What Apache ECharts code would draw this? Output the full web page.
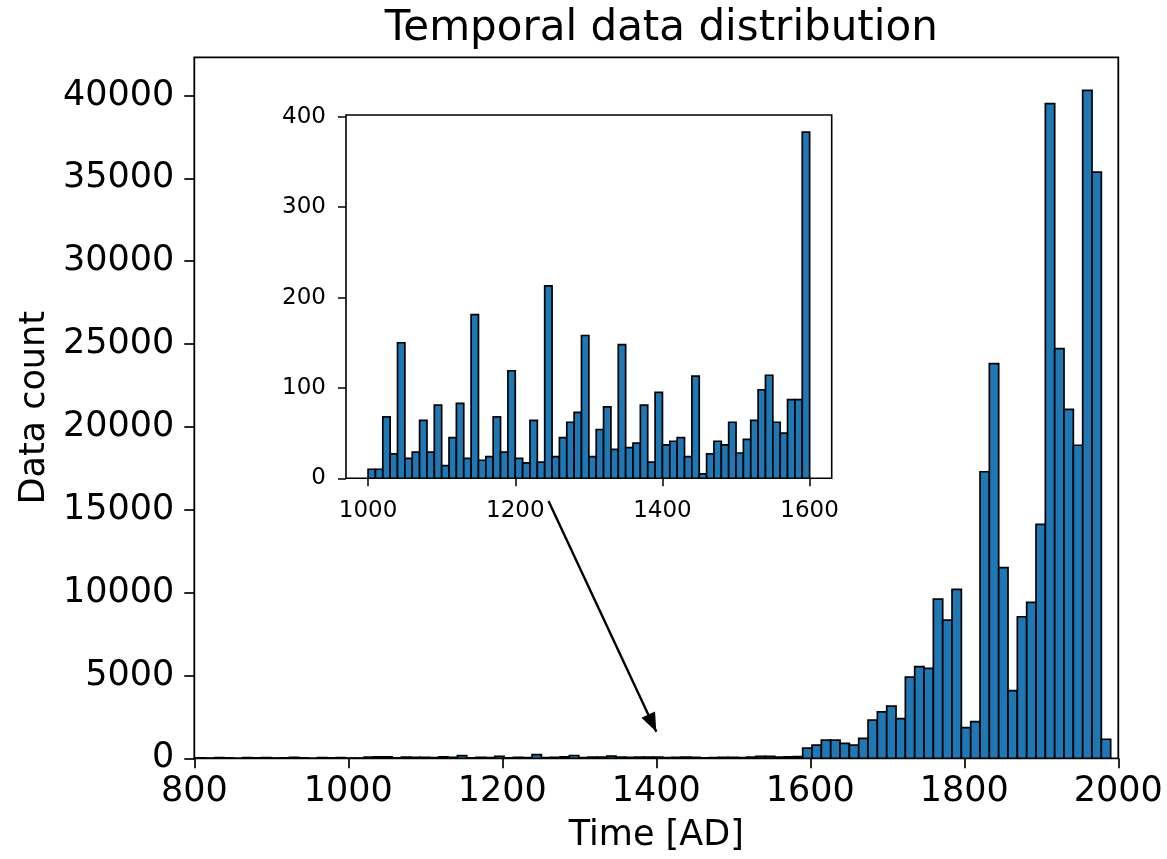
<!DOCTYPE html>
<html>
<head>
<meta charset="utf-8">
<script src="https://cdn.jsdelivr.net/npm/echarts@6/dist/echarts.min.js"></script>
<style>
html,body{margin:0;padding:0;background:#fff;}
#chart{width:1167px;height:859px;}
</style>
</head>
<body>
<div id="chart"></div>
<script>
// ---------- DATA ----------
// Main histogram: 100 equal-width bins (years), clipped to 800-2000 view
const mainBinStart = 778.1;
const mainBinWidth = 12.12;
const mainCounts = [
  20, 25, 30, 15, 40, 25, 0, 35, 20, 45, 10, 30, 50, 20, 0, 35, 25, 40,
  15, 12, 76, 94, 90, 33, 70, 50, 64, 39, 91, 53, 158, 26, 64, 43, 123, 25, 52, 38,
  220, 35, 63, 82, 169, 40, 72, 73, 128, 68, 55, 72, 68, 68, 48, 52, 73, 60, 26, 44,
  56, 57, 44, 77, 121, 116, 67, 90, 104,
  620, 800, 1100, 1100, 900, 800, 1200, 2300, 2800, 3150, 2400, 4900, 5530, 5430,
  9600, 8340, 10190, 1850, 2210, 17290, 23820, 11500, 4080, 8540, 9410, 14110,
  39500, 24720, 21060, 18890, 40300, 35370, 1150
];
// Inset histogram: decades 1000-1600
const insetBinStart = 1000;
const insetBinWidth = 10;
const insetCounts = [
  10, 10, 68, 27, 150, 22, 29, 64, 29, 81,
  14, 45, 83, 22, 181, 20, 24, 68, 29, 119,
  22, 17, 64, 18, 213, 24, 45, 62, 73, 158,
  24, 54, 79, 32, 148, 34, 39, 81, 18, 95,
  37, 41, 45, 24, 113, 5, 27, 41, 37, 62,
  28, 43, 64, 98, 114, 62, 50, 87, 87, 383
];
const mainXTicks = [800, 1000, 1200, 1400, 1600, 1800, 2000];
const mainYTicks = [0, 5000, 10000, 15000, 20000, 25000, 30000, 35000, 40000];
const insetXTicks = [1000, 1200, 1400, 1600];
const insetYTicks = [0, 100, 200, 300, 400];
// annotation arrow (main-axis data coords): from -> to
const arrowFrom = [1260, 15530];
const arrowTo = [1400, 1600];

const titleText = 'Temporal data distribution';
const xName = 'Time [AD]';
const yName = 'Data count';

// ---------- BUILD ----------
const mainData = mainCounts.map((c, i) => [mainBinStart + i * mainBinWidth, mainBinStart + (i + 1) * mainBinWidth, c]);
const insetData = insetCounts.map((c, i) => [insetBinStart + i * insetBinWidth, insetBinStart + (i + 1) * insetBinWidth, c]);

const FONT = 'DejaVu Sans';
const BAR = '#1f77b4';
const plain = v => String(v);

function renderBar(params, api) {
  const x0 = api.value(0), x1 = api.value(1), v = api.value(2);
  const p0 = api.coord([x0, v]);
  const p1 = api.coord([x1, 0]);
  const cs = params.coordSys;
  const r2 = echarts.graphic.clipRectByRect(
    {x: p0[0], y: p0[1], width: p1[0] - p0[0], height: p1[1] - p0[1]},
    {x: cs.x, y: cs.y - 5, width: cs.width, height: cs.height + 10}
  );
  if (!r2) return null;
  return {
    type: 'rect',
    shape: r2,
    style: {fill: BAR, stroke: '#000', lineWidth: 1.7}
  };
}

const chart = echarts.init(document.getElementById('chart'), null, {renderer: 'canvas'});

const mainGrid = {left: 194.3, top: 57.3, width: 924, height: 701};
const insetGrid = {left: 346, top: 115, width: 485.7, height: 363.3};

chart.setOption({
  animation: false,
  backgroundColor: '#fff',
  title: {
    text: titleText,
    left: mainGrid.left + mainGrid.width / 2,
    textAlign: 'center',
    top: 3,
    textStyle: {fontFamily: FONT, fontSize: 42, fontWeight: 'normal', color: '#000'}
  },
  grid: [
    Object.assign({show: true, borderColor: '#000', borderWidth: 1.8, backgroundColor: 'transparent', z: 0}, mainGrid),
    Object.assign({show: true, borderColor: '#000', borderWidth: 1.6, backgroundColor: '#fff', z: 5}, insetGrid)
  ],
  xAxis: [
    {
      type: 'value', gridIndex: 0, min: 800, max: 2000,
      name: xName, nameLocation: 'middle', nameGap: 60,
      nameTextStyle: {fontFamily: FONT, fontSize: 35, color: '#000'},
      axisLine: {show: false},
      splitLine: {show: false},
      axisTick: {show: true, length: 10, lineStyle: {color: '#000', width: 1.7}, customValues: mainXTicks},
      axisLabel: {fontFamily: FONT, fontSize: 35, color: '#000', margin: 16, customValues: mainXTicks, formatter: plain}
    },
    {
      type: 'value', gridIndex: 1, min: 970, max: 1630,
      axisLine: {show: false},
      splitLine: {show: false},
      axisTick: {show: true, length: 8, lineStyle: {color: '#000', width: 1.5}, customValues: insetXTicks},
      axisLabel: {fontFamily: FONT, fontSize: 23, color: '#000', margin: 21, customValues: insetXTicks, formatter: plain},
      z: 6
    }
  ],
  yAxis: [
    {
      type: 'value', gridIndex: 0, min: 0, max: 42300,
      name: yName, nameLocation: 'middle', nameGap: 142,
      nameTextStyle: {fontFamily: FONT, fontSize: 35, color: '#000'},
      axisLine: {show: false},
      splitLine: {show: false},
      axisTick: {show: true, length: 10, lineStyle: {color: '#000', width: 1.7}, customValues: mainYTicks},
      axisLabel: {fontFamily: FONT, fontSize: 35, color: '#000', margin: 20, customValues: mainYTicks, formatter: plain}
    },
    {
      type: 'value', gridIndex: 1, min: 0, max: 402,
      axisLine: {show: false},
      splitLine: {show: false},
      axisTick: {show: true, length: 8, lineStyle: {color: '#000', width: 1.5}, customValues: insetYTicks},
      axisLabel: {fontFamily: FONT, fontSize: 23, color: '#000', margin: 20, customValues: insetYTicks, formatter: plain},
      z: 6
    }
  ],
  series: [
    {
      type: 'custom', xAxisIndex: 0, yAxisIndex: 0,
      renderItem: renderBar, data: mainData, clip: true, z: 2,
      markLine: {
        silent: true,
        symbol: ['none', 'triangle'],
        symbolSize: [15, 19],
        symbolOffset: [[0, 0], [0, '50%']],
        label: {show: false},
        lineStyle: {color: '#000', width: 2.4, type: 'solid'},
        data: [[{coord: arrowFrom}, {coord: arrowTo}]]
      }
    },
    {
      type: 'custom', xAxisIndex: 1, yAxisIndex: 1,
      renderItem: renderBar, data: insetData, clip: true, z: 7
    }
  ]
});
</script>
</body>
</html>
